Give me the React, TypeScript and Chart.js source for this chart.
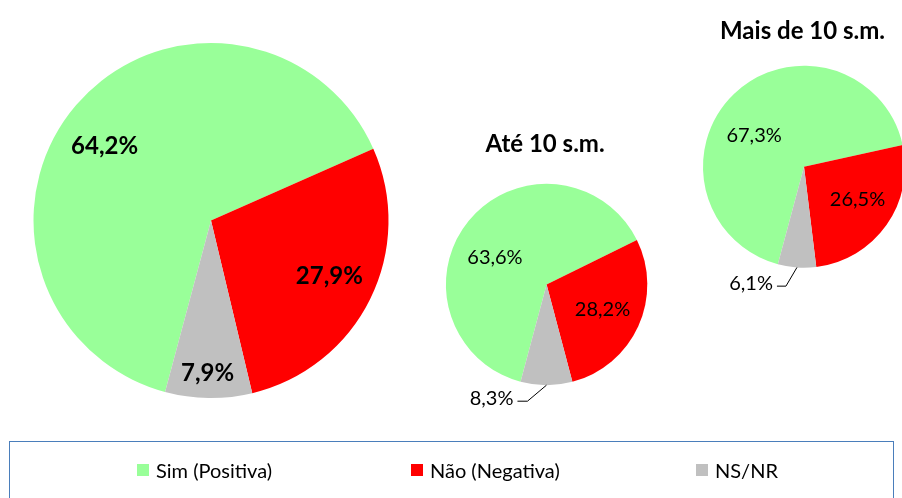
import React, { useEffect, useRef } from "react";
import { Chart, registerables } from "chart.js";

Chart.register(...registerables);

// ---- data ----
const categories = ["Sim (Positiva)", "Não (Negativa)", "NS/NR"];
const sliceColors = ["#99FF99", "#FF0000", "#C0C0C0"];
const totalValues = [64.2, 27.9, 7.9];
const ate10Values = [63.6, 28.2, 8.3];
const mais10Values = [67.3, 26.5, 6.1];
const pieTitles = ["", "Até 10 s.m.", "Mais de 10 s.m."];

// ---- layout / style ----
const FONT = "Lato, 'Open Sans', sans-serif";
const CW = 920;
const CH = 498;

type Place =
  | { kind: "in"; f: number; da: number }
  | { kind: "out"; ex: number; ey: number; hx: number };

interface PieCfg {
  values: number[];
  title: string;
  cx: number;
  cy: number;
  r: number;
  titleY: number;
  bold: boolean;
  size: number;
  places: Place[];
}

const pies: PieCfg[] = [
  {
    values: totalValues,
    title: pieTitles[0],
    cx: 211,
    cy: 220.5,
    r: 177.5,
    titleY: 0,
    bold: true,
    size: 24,
    places: [
      { kind: "in", f: 0.732, da: -5.5 },
      { kind: "in", f: 0.736, da: -1.3 },
      { kind: "in", f: 0.861, da: 0.5 },
    ],
  },
  {
    values: ate10Values,
    title: pieTitles[1],
    cx: 546.6,
    cy: 284.5,
    r: 100.7,
    titleY: 144,
    bold: false,
    size: 20,
    places: [
      { kind: "in", f: 0.58, da: -11.5 },
      { kind: "in", f: 0.61, da: 0 },
      { kind: "out", ex: -19, ey: 16, hx: -10 },
    ],
  },
  {
    values: mais10Values,
    title: pieTitles[2],
    cx: 804,
    cy: 166.7,
    r: 101,
    titleY: 31,
    bold: false,
    size: 20,
    places: [
      { kind: "in", f: 0.58, da: -14.7 },
      { kind: "in", f: 0.62, da: -4 },
      { kind: "out", ex: -11, ey: 18.7, hx: -9 },
    ],
  },
];

const fmt = (v: number) => v.toFixed(1).replace(".", ",") + "%";

function PieCanvas({ cfg }: { cfg: PieCfg }) {
  const ref = useRef<HTMLCanvasElement | null>(null);
  useEffect(() => {
    if (!ref.current) return;
    const labelPlugin = {
      id: "pieLabels",
      afterDatasetsDraw(chart: any) {
        const ctx = chart.ctx as CanvasRenderingContext2D;
        const meta = chart.getDatasetMeta(0);
        ctx.save();
        ctx.fillStyle = "#000";
        ctx.strokeStyle = "#000";
        ctx.lineWidth = 1;
        ctx.font = `${cfg.bold ? "bold " : ""}${cfg.size}px ${FONT}`;
        meta.data.forEach((arc: any, i: number) => {
          const p = arc.getProps(
            ["x", "y", "startAngle", "endAngle", "outerRadius"],
            true
          );
          const mid = (p.startAngle + p.endAngle) / 2;
          const place = cfg.places[i];
          const text = fmt(cfg.values[i]);
          if (place.kind === "in") {
            const a = mid + (place.da * Math.PI) / 180;
            const d = place.f * p.outerRadius;
            ctx.textAlign = "center";
            ctx.textBaseline = "middle";
            ctx.fillText(text, p.x + d * Math.cos(a), p.y + d * Math.sin(a));
          } else {
            const sx = p.x + p.outerRadius * Math.cos(mid);
            const sy = p.y + p.outerRadius * Math.sin(mid);
            const ex = sx + place.ex;
            const ey = sy + place.ey;
            const hx = ex + place.hx;
            ctx.beginPath();
            ctx.moveTo(sx, sy);
            ctx.lineTo(ex, ey);
            ctx.lineTo(hx, ey);
            ctx.stroke();
            ctx.textAlign = "right";
            ctx.textBaseline = "middle";
            ctx.fillText(text, hx - 4, ey - 3);
          }
        });
        if (cfg.title) {
          ctx.font = `bold 24px ${FONT}`;
          ctx.textAlign = "center";
          ctx.textBaseline = "middle";
          ctx.fillText(cfg.title, cfg.cx - 1.5, cfg.titleY);
        }
        ctx.restore();
      },
    };

    const chart = new Chart(ref.current, {
      type: "pie",
      data: {
        labels: categories,
        datasets: [
          {
            data: cfg.values,
            backgroundColor: sliceColors,
            borderWidth: 0,
          },
        ],
      },
      options: {
        responsive: false,
        animation: false,
        rotation: 195,
        layout: {
          padding: {
            left: cfg.cx - cfg.r,
            top: cfg.cy - cfg.r,
            right: CW - (cfg.cx + cfg.r),
            bottom: CH - (cfg.cy + cfg.r),
          },
        },
        plugins: {
          legend: { display: false },
          tooltip: { enabled: false },
          title: { display: false },
        },
      },
      plugins: [labelPlugin],
    });
    return () => chart.destroy();
  }, [cfg]);
  return (
    <canvas
      ref={ref}
      width={CW}
      height={CH}
      style={{ position: "absolute", left: 0, top: 0, width: CW, height: CH }}
    />
  );
}

const legendX = [137, 411, 696];

export default function App() {
  return (
    <div
      style={{
        position: "fixed",
        left: 0,
        top: 0,
        width: 902,
        height: 498,
        overflow: "hidden",
        background: "#fff",
      }}
    >
      {pies.map((p, i) => (
        <PieCanvas key={i} cfg={p} />
      ))}
      <div
        style={{
          position: "absolute",
          left: 9,
          top: 441,
          width: 885,
          height: 100,
          border: "1px solid #4A7EBB",
          boxSizing: "border-box",
        }}
      />
      {categories.map((c, i) => (
        <div
          key={c}
          style={{
            position: "absolute",
            left: legendX[i],
            top: 457,
            height: 26,
            display: "flex",
            alignItems: "center",
            fontFamily: FONT,
            fontSize: 20,
            color: "#000",
            whiteSpace: "nowrap",
          }}
        >
          <span
            style={{
              display: "inline-block",
              width: 12,
              height: 12,
              background: sliceColors[i],
              marginRight: 7,
            }}
          />
          <span>{c}</span>
        </div>
      ))}
    </div>
  );
}
